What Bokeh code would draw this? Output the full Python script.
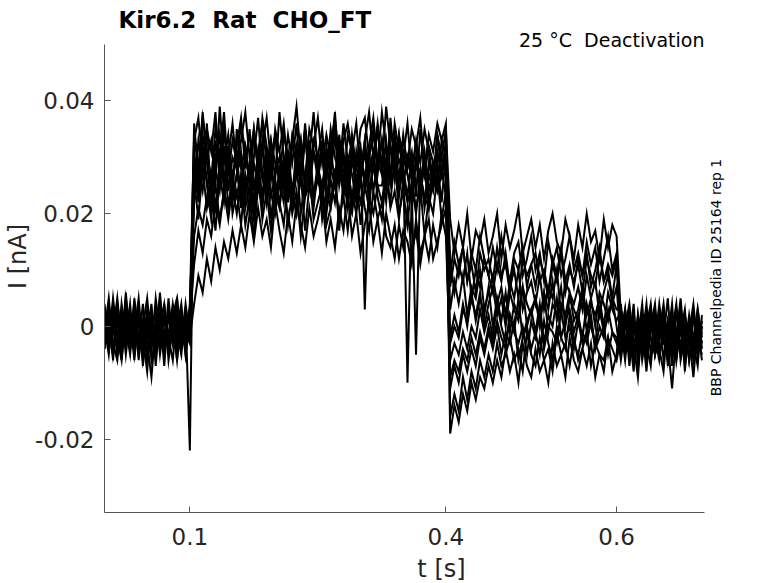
import numpy as np
from bokeh.plotting import figure
from bokeh.models import Range1d, Label, FixedTicker
from bokeh.embed import file_html
from bokeh.resources import INLINE

# ---------------- data (currents in pA; 1 pA = 0.001 nA) ----------------
DT = 0.005                      # s, spacing of the digitised samples
T_PRE, T_ACT, T_TEST, T_POST = 0.0, 0.105, 0.405, 0.605   # epoch start times (s)

# baseline before the activating step, t = 0 ... 0.1 s (12 sweeps)
pre = [
    [3, -4, 2, -5, 4, -2, 1, -6, 3, -3, 0, -4, 5, -1, -5, 2, -3, 4, -2, 1, -1],
    [-2, 4, -5, 1, -3, 5, -1, -4, 2, -7, 1, 3, -5, 0, 4, -3, 2, -6, 3, -4, 0],
    [1, -3, 5, -2, -6, 3, -1, 4, -4, -2, -8, 2, -3, 1, -5, 3, -2, 5, -4, 2, -22],
    [-4, 2, -1, 5, -3, 0, -5, 3, -6, 1, -2, 4, -7, 2, -1, -4, 3, -3, 1, -5, 2],
    [2, -1, -5, 3, -2, 4, -4, -1, 3, -5, -3, -9, 0, -4, 2, -2, 4, -1, -5, 3, -3],
    [-1, 5, -3, -6, 2, -2, 4, -5, 1, -3, 3, -6, -2, 1, -4, 5, -3, -1, 3, -4, 1],
    [4, -2, 0, -4, 3, -5, 2, -1, -3, 4, -6, -1, 3, -5, 1, -2, -6, 2, -3, 4, -2],
    [-3, 1, -6, 4, -1, 2, -4, 5, -2, 0, -5, 1, -3, 6, -4, -1, 2, -5, 0, -2, 4],
    [0, -5, 3, -1, -4, 6, -3, 1, -2, -5, 2, -4, 1, -3, 4, -6, 0, 3, -4, -1, -3],
    [2, -3, -1, 4, -6, 1, -2, 3, -4, 0, 5, -3, -1, 2, -7, 3, -2, 0, 4, -5, 1],
    [-4, 1, 3, -2, -5, 2, 0, -3, 4, -6, -1, 2, -4, 5, -2, -3, 1, -6, 2, 0, -1],
    [1, -2, 4, -5, 0, -3, 2, -1, 5, -4, -2, 1, -6, 3, -1, -4, 2, 5, -3, 1, -2],
]

# activating step, t = 0.105 ... 0.4 s
act = [
    [36, 27, 38, 30, 33, 25, 39, 29, 34, 26, 32, 37, 28, 35, 24, 31, 36, 29, 33, 26,
     38, 30, 27, 34, 31, 25, 36, 28, 33, 30, 35, 26, 32, 37, 29, 24, 34, 31, 36, 27,
     33, 38, 30, 35, 28, 39, 32, 26, 34, 30, 36, 27, 33, 29, 35, 31, 26, 34, 30, 35],
    [24, 33, 27, 36, 22, 30, 34, 26, 31, 23, 35, 28, 32, 25, 30, 37, 27, 24, 33, 29,
     26, 34, 30, 23, 32, 28, 35, 25, 31, 27, 33, 22, 29, 36, 27, 31, 24, 34, 28, 32,
     25, 30, 35, 27, 33, 24, 37, 29, 26, 34, 28, 31, 23, 35, 27, 32, 29, 25, 33, 30],
    [31, 25, 34, 29, 22, 33, 27, 36, 24, 30, 28, 21, 32, 26, 35, 29, 23, 31, 27, 34,
     25, 30, 22, 33, 28, 26, 35, 24, 31, 29, 23, 32, 27, 34, 25, 30, 21, 33, 28, 26,
     31, 24, 29, 35, 27, 22, 32, 28, 34, 25, 30, 26, 33, 23, 29, 31, 25, 34, 27, 32],
    [29, 22, 31, 25, 19, 28, 24, 32, 21, 27, 30, 23, 26, 20, 29, 25, 32, 22, 28, 24,
     21, 27, 31, 24, 29, 20, 26, 33, 23, 28, 25, 30, 22, 27, 32, 24, 29, 21, 31, 26,
     33, 27, 30, 36, 28, 32, 25, 34, 29, 31, 27, 23, 30, 25, 28, 21, 29, 24, 27, 30],
    [26, 19, 28, 21, 25, 17, 27, 22, 30, 20, 24, 18, 27, 23, 16, 25, 21, 29, 19, 26,
     22, 28, 18, 24, 20, 27, 17, 25, 23, 29, 19, 24, 21, 28, 17, 26, 22, 20, 27, 18,
     25, 21, 29, 23, 19, 27, 22, 30, 20, 24, 18, 26, 21, 25, 16, 23, 20, 27, 19, 24],
    [11, 17, 13, 19, 16, 22, 18, 24, 19, 25, 20, 26, 18, 23, 21, 27, 19, 24, 17, 25,
     22, 18, 26, 20, 24, 16, 23, 27, 19, 22, 25, 18, 21, 26, 19, 23, 17, 24, 20, 26,
     21, 17, 24, 19, 22, 16, 14, 18, 12, 17, 15, 11, 19, 13, 16, 12, 18, 14, 20, 16],
    [4, 9, 6, 12, 8, 14, 10, 15, 12, 17, 13, 18, 14, 20, 15, 21, 16, 19, 14, 22,
     17, 13, 20, 15, 22, 18, 14, 21, 16, 19, 23, 15, 19, 14, 21, 17, 24, 16, 20, 13,
     18, 22, 15, 19, 13, 20, 16, 12, 18, 14, 21, 13, 17, 11, 16, 19, 12, 15, 18, 21],
    [34, 28, 37, 31, 26, 35, 30, 38, 27, 33, 29, 36, 31, 25, 34, 28, 37, 32, 26, 35,
     31, 27, 34, 29, 36, 25, 33, 30, 38, 28, 32, 26, 35, 30, 27, 36, 29, 33, 25, 31,
     3, 28, 31, 25, 25, 30, 27, 33, 26, 29, -10, 24, -5, 27, 22, 29, 25, 31, 27, 33],
    [30, 23, 32, 26, 21, 29, 34, 24, 28, 22, 27, 31, 23, 29, 20, 26, 33, 25, 30, 22,
     28, 24, 31, 21, 27, 33, 25, 29, 23, 26, 31, 22, 28, 25, 34, 27, 21, 30, 24, 29,
     26, 32, 37, 29, 33, 27, 35, 30, 24, 28, 23, 30, 25, 28, 21, 27, 24, 29, 22, 31],
    [33, 37, 29, 35, 31, 38, 27, 34, 30, 36, 28, 33, 38, 30, 35, 27, 32, 37, 29, 34,
     31, 36, 28, 33, 39, 30, 26, 35, 32, 37, 29, 34, 30, 38, 27, 33, 36, 31, 28, 35,
     37, 30, 34, 29, 38, 32, 27, 36, 31, 33, 29, 35, 32, 37, 28, 34, 31, 36, 33, 36],
    [22, 28, 24, 31, 26, 21, 29, 25, 32, 23, 27, 30, 24, 28, 22, 31, 26, 29, 23, 27,
     30, 25, 28, 22, 29, 33, 24, 27, 31, 26, 23, 28, 32, 25, 29, 24, 30, 27, 22, 28,
     26, 31, 24, 29, 27, 33, 25, 28, 23, 30, 27, 22, 29, 25, 31, 24, 28, 26, 30, 27],
    [16, 21, 18, 23, 20, 25, 19, 24, 21, 26, 23, 27, 21, 25, 19, 26, 22, 28, 24, 20,
     26, 22, 28, 24, 20, 27, 23, 25, 21, 28, 24, 20, 26, 22, 29, 23, 27, 21, 25, 22,
     27, 23, 20, 25, 22, 28, 21, 24, 19, 26, 22, 25, 20, 27, 23, 21, 26, 24, 28, 23],
]

# test (deactivating) steps, t = 0.405 ... 0.6 s
test = [
    [19, 13, 18, 14, 20, 12, 17, 15, 19, 13, 16, 20, 12, 18, 14, 17, 21, 13, 16, 19,
     14, 18, 12, 17, 20, 15, 13, 19, 16, 12, 18, 14, 20, 15, 17, 12, 19, 14, 18, 16],
    [9, 15, 11, 14, 8, 13, 10, 16, 12, 9, 14, 10, 16, 11, 8, 13, 15, 9, 12, 16,
     10, 13, 8, 15, 11, 14, 9, 12, 16, 10, 13, 9, 15, 11, 14, 8, 12, 16, 10, 13],
    [12, 6, 11, 8, 13, 5, 10, 7, 12, 9, 6, 11, 8, 13, 7, 10, 5, 12, 9, 11,
     7, 12, 9, 5, 11, 8, 13, 6, 10, 8, 11, 6, 12, 9, 7, 13, 8, 10, 5, 11],
    [3, 8, 4, 9, 2, 7, 5, 10, 3, 6, 9, 4, 7, 2, 8, 5, 10, 3, 6, 8,
     4, 9, 3, 7, 5, 10, 2, 8, 6, 4, 7, 3, 9, 5, 8, 2, 6, 9, 4, 7],
    [-2, 2, -1, 4, 0, 6, 1, 5, 2, 7, 0, 5, 1, 6, -1, 4, 2, 7, 0, 3,
     5, 1, 6, -1, 4, 2, 7, 0, 5, 3, 1, 6, -1, 4, 2, 5, 0, 6, 3, 1],
    [-6, -3, -5, -1, -4, 0, -2, 3, -1, 2, -2, 4, 0, -3, 2, -1, 5, -2, 1, 3,
     -1, 4, -3, 2, 0, 5, -2, 1, 3, -1, 2, -2, 4, 0, -3, 3, -1, 2, 5, 0],
    [-11, -7, -10, -5, -8, -4, -7, -2, -5, -1, -4, 0, -5, -1, -3, 1, -6, -2, 0, -4,
     -1, -5, 1, -3, -6, 0, -2, -4, 2, -3, -5, -1, -3, 1, -4, -2, 0, -5, -1, -3],
    [-16, -12, -15, -9, -13, -8, -11, -6, -9, -5, -8, -3, -7, -5, -2, -6, -4, -8, -1, -5,
     -7, -2, -6, -4, -8, -1, -5, -3, -7, -2, -6, -4, -1, -7, -3, -5, -8, -2, -4, -6],
    [-19, -14, -17, -12, -15, -10, -13, -9, -11, -7, -10, -6, -9, -4, -8, -5, -10, -3, -7, -9,
     -4, -8, -6, -10, -3, -7, -5, -9, -2, -6, -8, -4, -7, -3, -9, -5, -6, -2, -8, -5],
    [7, 12, 9, 14, 8, 11, 6, 13, 10, 12, 8, 14, 9, 11, 6, 12, 10, 14, 7, 11,
     13, 8, 10, 6, 12, 9, 14, 8, 11, 7, 12, 9, 13, 7, 10, 14, 8, 11, 9, 12],
    [-3, 0, -2, 3, 1, 5, 2, 6, 0, 4, 7, 2, 5, 0, 6, 3, 1, 7, 4, 2,
     5, 0, 6, 3, 8, 1, 4, 2, 6, 1, 3, 7, 2, 5, 0, 6, 4, 1, 5, 3],
    [-9, -6, -8, -4, -6, -2, -5, -1, -4, 0, -3, 1, -2, -4, 2, -1, -3, 0, -5, 1,
     -2, 2, -4, 0, -1, -3, 3, -2, 0, -4, 1, -3, -1, 2, -4, 0, -2, 3, -1, -2],
]

# baseline after the test step, t = 0.605 ... 0.7 s
post = [
    [2, -4, 3, -6, 1, -2, 4, -5, 0, -3, 3, -7, 1, -2, 5, -4, -1, 2, -5, 0],
    [-5, 1, -3, 4, -7, 0, -2, 3, -5, -1, 2, -6, 0, -3, 4, -8, 1, -2, 3, -4],
    [0, -6, 2, -3, -9, 1, -4, 3, -2, -6, 0, -3, 2, -5, -1, 3, -6, -2, 1, -3],
    [-3, 3, -5, 0, -2, 4, -6, -1, 2, -4, -8, 1, -3, 3, -5, 0, -2, -9, 0, -1],
    [3, -2, -5, 1, -4, 2, -3, -7, 1, -1, 4, -4, -2, -6, 2, -3, 0, -5, 3, -2],
    [-6, 0, 4, -3, -1, -5, 2, -2, -4, 3, -6, 0, -1, -3, 2, -7, -1, 4, -4, 1],
    [1, -4, -1, -8, 2, -3, 0, 4, -5, -2, 1, -3, -11, -1, -4, 2, -2, -6, 0, -3],
    [-2, 2, -7, 0, -3, 1, -5, -1, 3, -4, -2, 5, -5, -1, -3, 0, -6, 2, -2, -5],
    [4, -3, 0, -5, 2, -6, -1, 3, -4, 1, -3, -2, 4, -6, 0, -4, 1, -3, -7, 2],
    [-1, 3, -4, 1, -6, 2, -3, 0, 4, -5, -2, 1, -7, 3, -1, -4, 2, -3, 0, -6],
    [3, -5, -1, 2, -4, 0, -8, 1, -3, 4, -2, -6, 1, -1, 3, -5, -2, 2, -4, -1],
    [-4, 0, 2, -6, 1, -3, 3, -2, -5, 0, 2, -4, -1, 4, -6, -2, 1, -3, -5, 0],
]

x_ticks = [0.1, 0.4, 0.6]
y_ticks = [-0.02, 0.0, 0.02, 0.04]
y_tick_labels = {-0.02: "-0.02", 0.0: "0", 0.02: "0.02", 0.04: "0.04"}

title_text = "Kir6.2 \u00a0Rat \u00a0CHO_FT"
info_text = "25 \u00b0C \u00a0Deactivation"
side_text = "BBP Channelpedia ID 25164 rep 1"

# ---------------- figure ----------------
FONT = "DejaVu Sans"
AXIS_COL = "#555555"
TEXT_COL = "#262626"

# axes box (as drawn in the reference) and pixel geometry
AX_X = (0.0, 0.703)
AX_Y = (-0.033, 0.05)
BOX_W, BOX_H = 600, 468          # axes box in px
LEFT, TOP = 104, 44              # axes box offset in px
FRAME_W, FRAME_H = 778 - LEFT, TOP + BOX_H
px_x = BOX_W / (AX_X[1] - AX_X[0])     # px per second
px_y = BOX_H / (AX_Y[1] - AX_Y[0])     # px per nA
x_end = AX_X[0] + FRAME_W / px_x
y_top = AX_Y[1] + TOP / px_y

p = figure(frame_width=FRAME_W, frame_height=FRAME_H,
           min_border_left=LEFT, min_border_right=0,
           min_border_top=0, min_border_bottom=583 - FRAME_H,
           x_range=Range1d(AX_X[0], x_end), y_range=Range1d(AX_Y[0], y_top),
           title=None, output_backend="svg", toolbar_location=None)
p.background_fill_color = "white"
p.border_fill_color = "white"
p.outline_line_color = None
p.xgrid.visible = False
p.ygrid.visible = False

# traces
for r_pre, r_act, r_test, r_post in zip(pre, act, test, post):
    segs = [(T_PRE, r_pre), (T_ACT, r_act), (T_TEST, r_test), (T_POST, r_post)]
    t = np.concatenate([t0 + np.arange(len(v)) * DT for t0, v in segs])
    i_na = np.concatenate([np.asarray(v, dtype=float) for _, v in segs]) / 1000.0
    p.line(t, i_na, line_color="black", line_width=2.0, line_join="miter")

# x axis
xa = p.xaxis[0]
xa.bounds = AX_X
xa.ticker = FixedTicker(ticks=x_ticks)
xa.minor_tick_line_color = None
xa.major_tick_in = 6
xa.major_tick_out = 0
xa.axis_line_color = AXIS_COL
xa.major_tick_line_color = AXIS_COL
xa.major_label_text_font = FONT
xa.major_label_text_font_size = "23px"
xa.major_label_text_color = TEXT_COL
xa.major_label_standoff = 15
xa.axis_label = "t [s]"
xa.axis_label_text_font = FONT
xa.axis_label_text_font_size = "24px"
xa.axis_label_text_font_style = "normal"
xa.axis_label_text_color = TEXT_COL
xa.axis_label_standoff = 7

# y axis
ya = p.yaxis[0]
ya.bounds = AX_Y
ya.ticker = FixedTicker(ticks=y_ticks)
ya.major_label_overrides = y_tick_labels
ya.minor_tick_line_color = None
ya.major_tick_in = 6
ya.major_tick_out = 0
ya.axis_line_color = AXIS_COL
ya.major_tick_line_color = AXIS_COL
ya.major_label_text_font = FONT
ya.major_label_text_font_size = "23px"
ya.major_label_text_color = TEXT_COL
ya.major_label_standoff = 10
ya.axis_label = "I [nA]"
ya.axis_label_text_font = FONT
ya.axis_label_text_font_size = "24px"
ya.axis_label_text_font_style = "normal"
ya.axis_label_text_color = TEXT_COL
ya.axis_label_standoff = 0

# title and annotations (inside the enlarged frame, outside the axes box)
p.add_layout(Label(x=AX_X[0] + 14 / px_x, y=AX_Y[1] + 25 / px_y, text=title_text,
                   text_align="left", text_baseline="alphabetic",
                   text_font=FONT, text_font_size="23px", text_font_style="bold",
                   text_color="black"))

p.add_layout(Label(x=AX_X[1], y=AX_Y[1] + 5 / px_y, text=info_text,
                   text_align="right", text_baseline="alphabetic",
                   text_font=FONT, text_font_size="19px", text_color="black"))

p.add_layout(Label(x=AX_X[1] + 3 / px_x, y=AX_Y[1] - 233 / px_y, angle=np.pi / 2,
                   text=side_text, text_align="center", text_baseline="top",
                   text_font=FONT, text_font_size="14px", text_color="black"))

open("out.html", "w").write(file_html(p, INLINE))
